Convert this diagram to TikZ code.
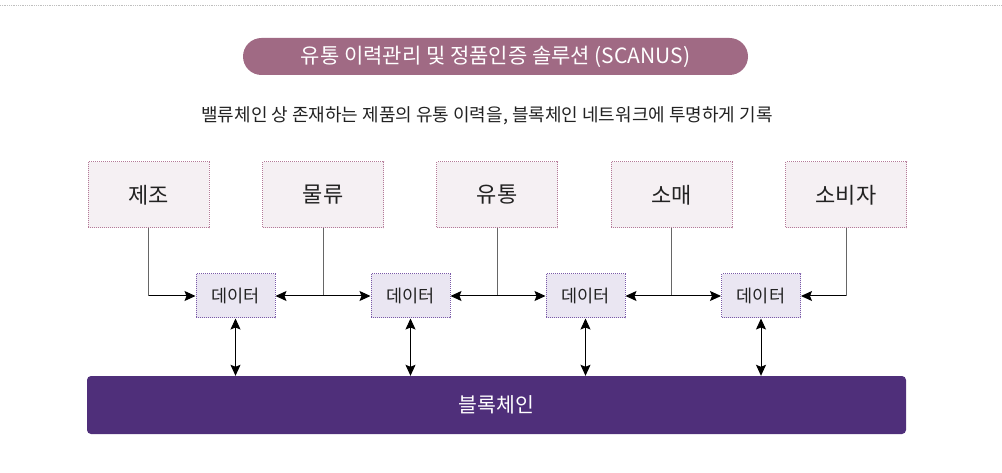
\documentclass[tikz,border=0pt]{standalone}
\usepackage{fontspec}
\setmainfont{Noto Sans CJK KR}
\usepackage{xcolor}
\usepackage{tikz}
\usetikzlibrary{positioning, arrows.meta, calc}

\definecolor{titlepink}{HTML}{A06A84}
\definecolor{chainpurple}{HTML}{4F2F7A}
\definecolor{stagefill}{HTML}{F5F0F3}
\definecolor{stageborder}{HTML}{B47A98}
\definecolor{datafill}{HTML}{EAE6F2}
\definecolor{databorder}{HTML}{7A5AA8}
\definecolor{textdark}{HTML}{222222}

\begin{document}
\begin{tikzpicture}[x=1pt, y=-1pt,
    stage/.style={draw=stageborder, densely dotted, line width=1pt, fill=stagefill,
        minimum width=121pt, minimum height=66pt, text=textdark,
        font=\fontsize{22}{26}\selectfont},
    databox/.style={draw=databorder, densely dotted, line width=1pt, fill=datafill,
        minimum width=79pt, minimum height=44pt, text=textdark,
        font=\fontsize{17.5}{20}\selectfont},
    chainbox/.style={fill=chainpurple, rounded corners=4pt, text=white,
        minimum width=819pt, minimum height=58pt, font=\fontsize{20.5}{24}\selectfont},
    titlepill/.style={fill=titlepink, rounded corners=18.5pt, text=white,
        minimum width=505pt, minimum height=37pt, font=\fontsize{21}{24}\selectfont},
    stem/.style={black!60, line width=1pt},
    flow/.style={line width=1pt, -{Stealth[length=11pt, width=10pt, inset=2pt]}},
    flowboth/.style={line width=1pt, {Stealth[length=11pt, width=10pt, inset=2pt]}-{Stealth[length=11pt, width=10pt, inset=2pt]}}
]
    \useasboundingbox (0,0) rectangle (1002,473);

    % Top separator
    \draw[gray!50, densely dotted, line width=0.8pt] (0,5) -- (1002,5);

    % Title and subtitle
    \node[titlepill] (title) at (495.5,56.5) {유통 이력관리 및 정품인증 솔루션 (SCANUS)};
    \node[text=textdark, font=\fontsize{18}{21}\selectfont] (subtitle) at (487,116)
        {밸류체인 상 존재하는 제품의 유통 이력을, 블록체인 네트워크에 투명하게 기록};

    % Value chain stages
    \foreach \name/\label/\x in {s1/제조/148.5, s2/물류/323, s3/유통/497, s4/소매/671.5, s5/소비자/846} {
        \node[stage] (\name) at (\x,195) {\label};
    }

    % Data nodes
    \foreach \i/\x in {1/235.5, 2/410.5, 3/585.5, 4/761} {
        \node[databox] (d\i) at (\x,296) {데이터};
    }

    % Blockchain
    \node[chainbox] (chain) at (496.5,405) {블록체인};

    % Junctions below each stage
    \coordinate (j1) at (s1.south |- d1.west);
    \coordinate (j2) at (s2.south |- d1.east);
    \coordinate (j3) at (s3.south |- d2.east);
    \coordinate (j4) at (s4.south |- d3.east);
    \coordinate (j5) at (s5.south |- d4.east);
    \foreach \i in {1,...,5} {
        \draw[stem] (s\i.south) -- (j\i);
    }

    % Data flow along the chain
    \draw[flow] (j1) -- (d1.west);
    \draw[flowboth] (d1.east) -- (d2.west);
    \draw[flowboth] (d2.east) -- (d3.west);
    \draw[flowboth] (d3.east) -- (d4.west);
    \draw[flow] (j5) -- (d4.east);

    % Links to blockchain
    \foreach \i in {1,...,4} {
        \draw[flowboth] (d\i.south) -- (d\i.south |- chain.north);
    }
\end{tikzpicture}
\end{document}
